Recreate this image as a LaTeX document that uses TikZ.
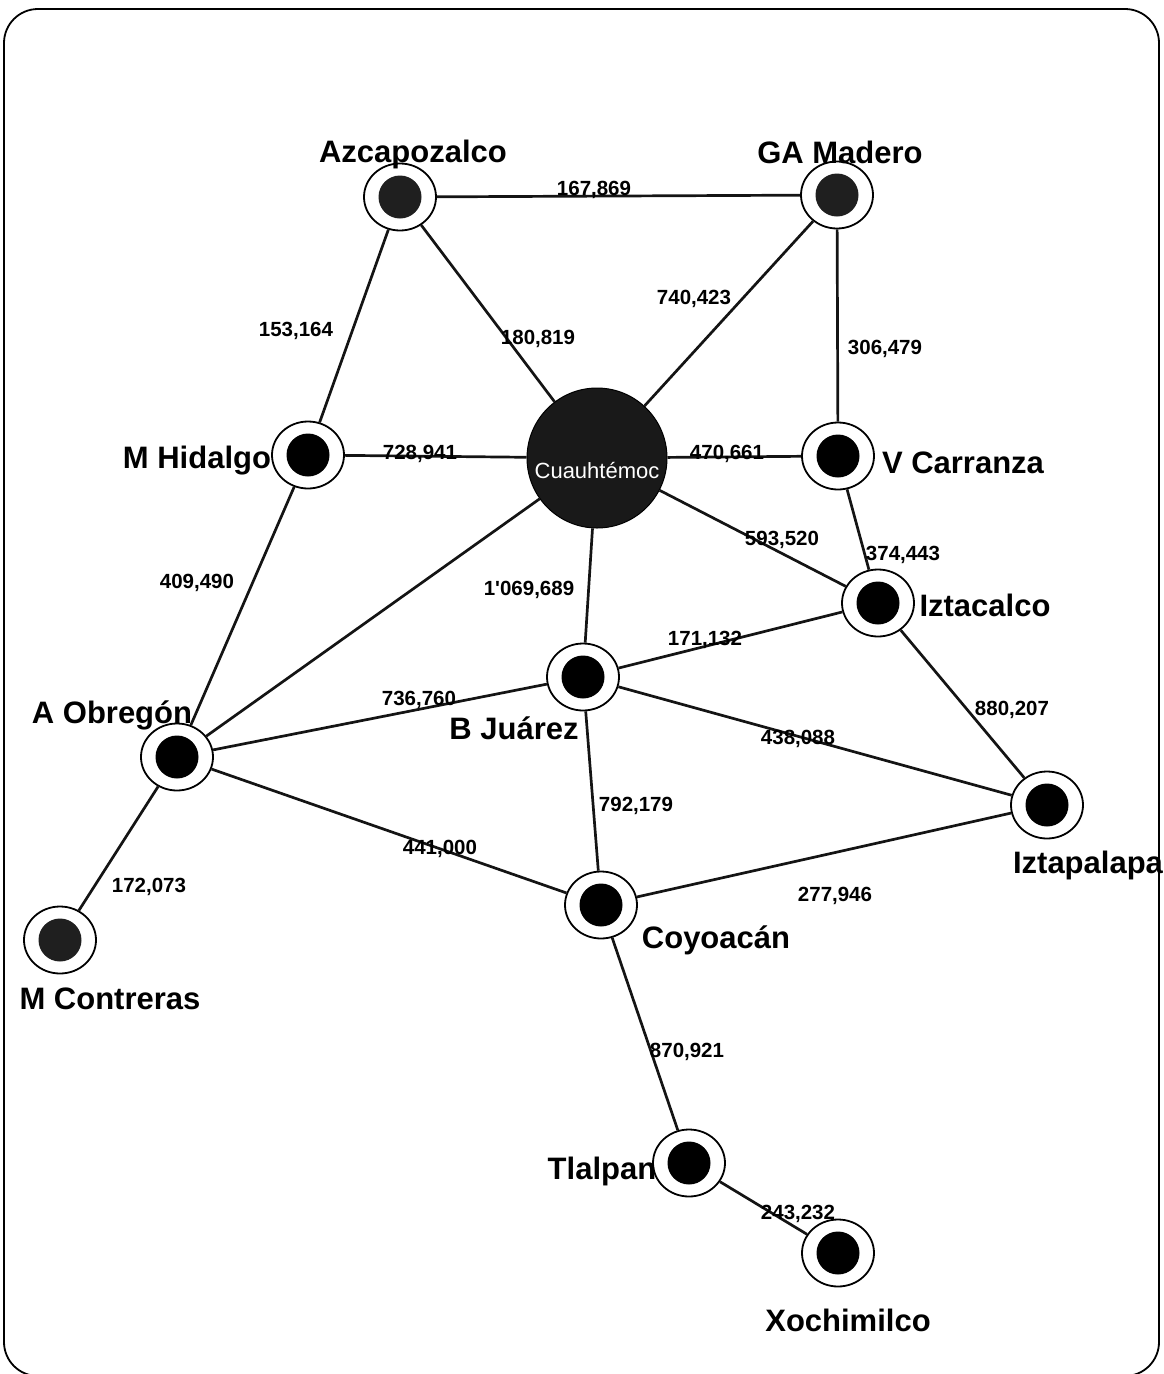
\documentclass[tikz,border=0pt]{standalone}
\usepackage{fontspec}
\setmainfont{Liberation Sans}
% same face without the tex-text mapping, so ' stays a straight apostrophe
\newfontfamily\flowfont{Liberation Sans}
\usetikzlibrary{shapes.geometric}
\begin{document}
\begin{tikzpicture}[x=1pt,y=-1pt,
  station/.style={ellipse,draw=black,line width=1.8pt,fill=white,
    minimum width=72pt,minimum height=67pt,inner sep=0pt,
    path picture={\fill[#1] (path picture bounding box.center) circle (21.5pt);}},
  station/.default=black,
  hub/.style={circle,fill=black!90,draw=black,line width=1pt,minimum size=140pt,inner sep=0pt},
  place/.style={anchor=base,inner sep=0pt,font=\bfseries\fontsize{31}{31}\selectfont},
  flow/.style={anchor=base,inner sep=0pt,font=\flowfont\bfseries\fontsize{20.5}{20.5}\selectfont},
  link/.style={line width=2.7pt,draw=black!92}]
\useasboundingbox (0,0) rectangle (1164,1374);
\draw[line width=1.8pt,rounded corners=34pt] (4,9) rectangle (1159,1376);

% stations
\node[station=black!88] (azc) at (400,197) {};
\node[station=black!88] (gam) at (837,195) {};
\node[station] (mhi) at (308,455) {};
\node[hub] (cua) at (597,458) {};
\node[station] (vca) at (838,456) {};
\node[station] (izc) at (878,603) {};
\node[station] (bju) at (583,677) {};
\node[station] (aob) at (177,757) {};
\node[station] (izp) at (1047,805) {};
\node[station] (coy) at (601,905) {};
\node[station=black!88] (mco) at (60,940) {};
\node[station] (tla) at (689,1163) {};
\node[station] (xoc) at (838,1253) {};

\node[anchor=base,inner sep=0pt,text=white,font=\fontsize{22}{22}\selectfont] (cualbl) at (597,478) {Cuauhtémoc};

% links
\draw[link] (azc) -- (gam);
\draw[link] (azc) -- (mhi);
\draw[link] (azc) -- (cua);
\draw[link] (gam) -- (cua);
\draw[link] (gam) -- (vca);
\draw[link] (mhi) -- (cua);
\draw[link] (cua) -- (vca);
\draw[link] (cua) -- (izc);
\draw[link] (vca) -- (izc);
\draw[link] (mhi) -- (aob);
\draw[link] (cua) -- (aob);
\draw[link] (cua) -- (bju);
\draw[link] (izc) -- (bju);
\draw[link] (izc) -- (izp);
\draw[link] (aob) -- (bju);
\draw[link] (bju) -- (izp);
\draw[link] (bju) -- (coy);
\draw[link] (aob) -- (coy);
\draw[link] (coy) -- (izp);
\draw[link] (aob) -- (mco);
\draw[link] (coy) -- (tla);
\draw[link] (tla) -- (xoc);

% station names
\node[place] (azcl) at (413,162) {Azcapozalco};
\node[place] (gaml) at (840,163) {GA Madero};
\node[place] (mhil) at (197,468) {M Hidalgo};
\node[place] (vcal) at (963,473) {V Carranza};
\node[place] (izcl) at (985,616) {Iztacalco};
\node[place] (bjul) at (514,739) {B Juárez};
\node[place] (aobl) at (112,723) {A Obregón};
\node[place] (izpl) at (1088,873) {Iztapalapa};
\node[place] (coyl) at (716,948) {Coyoacán};
\node[place] (mcol) at (110,1009) {M Contreras};
\node[place] (tlal) at (602,1179) {Tlalpan};
\node[place] (xocl) at (848,1331) {Xochimilco};

% flow values
\node[flow] (f1) at (594,195) {167,869};
\node[flow] (f2) at (296,336) {153,164};
\node[flow] (f3) at (538,344) {180,819};
\node[flow] (f4) at (694,304) {740,423};
\node[flow] (f5) at (885,354) {306,479};
\node[flow] (f6) at (420,459) {728,941};
\node[flow] (f7) at (727,459) {470,661};
\node[flow] (f8) at (782,545) {593,520};
\node[flow] (f9) at (903,560) {374,443};
\node[flow] (f10) at (197,588) {409,490};
\node[flow] (f11) at (529,595) {1'069,689};
\node[flow] (f12) at (705,645) {171,132};
\node[flow] (f13) at (1012,715) {880,207};
\node[flow] (f14) at (419,705) {736,760};
\node[flow] (f15) at (798,744) {438,088};
\node[flow] (f16) at (636,811) {792,179};
\node[flow] (f17) at (440,854) {441,000};
\node[flow] (f18) at (835,901) {277,946};
\node[flow] (f19) at (149,892) {172,073};
\node[flow] (f20) at (687,1057) {870,921};
\node[flow] (f21) at (798,1219) {243,232};
\end{tikzpicture}
\end{document}
